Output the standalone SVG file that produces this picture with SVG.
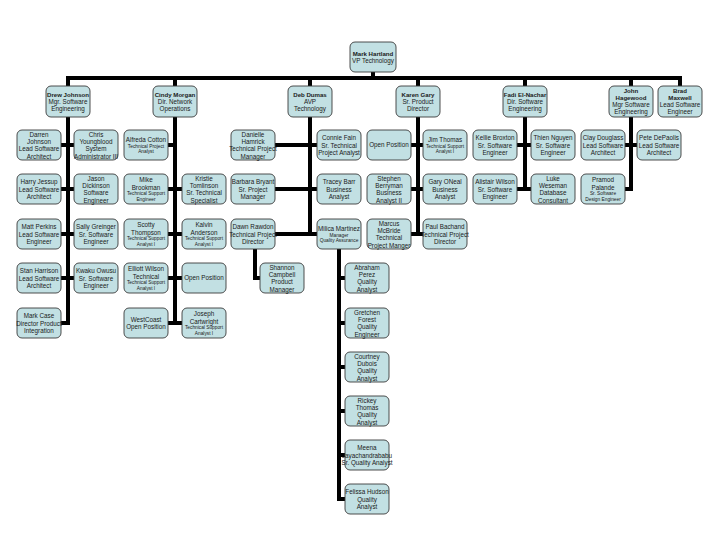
<svg xmlns="http://www.w3.org/2000/svg" width="720" height="540" viewBox="0 0 720 540">
<style>
.box{fill:#c2e0e3;stroke:#3a3a3a;stroke-width:0.9}
text{font-family:"Liberation Sans",Arial,sans-serif;font-size:6.3px;fill:#1a1a1a;text-anchor:middle}
.b{font-weight:bold;font-size:6.1px}
.s{font-size:4.8px}
.c{fill:none;stroke:#000;stroke-width:4;stroke-linecap:square}
</style>
<rect width="720" height="540" fill="#fff"/>
<g id="connectors" class="c">
<path d="M373 72V78M68 78H680M68 78V86M175 78V86M310 78V86M418 78V86M525 78V86M631 78V86M680 78V86"/>
<path d="M68 117V323M61 145H74M61 189H74M61 234H74M61 278H74M61 323H68"/>
<path d="M175 117V323M168 145H175M168 189H182M168 234H182M168 278H182M168 323H182"/>
<path d="M310 117V234M275 145H317M275 189H317M275 234H317"/>
<path d="M255 249V278H260"/>
<path d="M339 249V499M339 278H345M339 323H345M339 367H345M339 411H345M339 455H345M339 499H345"/>
<path d="M418 117V234M411 145H423M411 189H423M411 234H423"/>
<path d="M525 117V189M517 145H531M517 189H531"/>
<path d="M631 117V189M625 145H637M625 189H631"/>
</g>
<g id="mark-hartland"><rect class="box" x="350" y="42" width="46" height="30" rx="5"/><text x="373" y="55.8" class="b">Mark Hartland</text><text x="373" y="63.1">VP Technology</text></g>
<g id="drew-johnson"><rect class="box" x="46" y="86" width="44" height="31" rx="5"/><text x="68" y="96.6" class="b">Drew Johnson</text><text x="68" y="104">Mgr. Software</text><text x="68" y="111.3">Engineering</text></g>
<g id="cindy-morgan"><rect class="box" x="153" y="86" width="44" height="31" rx="5"/><text x="175" y="96.6" class="b">Cindy Morgan</text><text x="175" y="104">Dir. Network</text><text x="175" y="111.3">Operations</text></g>
<g id="deb-dumas"><rect class="box" x="288" y="86" width="44" height="31" rx="5"/><text x="310" y="96.6" class="b">Deb Dumas</text><text x="310" y="104">AVP</text><text x="310" y="111.3">Technology</text></g>
<g id="karen-gary"><rect class="box" x="396" y="86" width="44" height="31" rx="5"/><text x="418" y="96.6" class="b">Karen Gary</text><text x="418" y="104">Sr. Product</text><text x="418" y="111.3">Director</text></g>
<g id="fadi-el-nachar"><rect class="box" x="503" y="86" width="44" height="31" rx="5"/><text x="525" y="96.6" class="b">Fadi El-Nachar</text><text x="525" y="104">Dir. Software</text><text x="525" y="111.3">Engineering</text></g>
<g id="john-hagewood"><rect class="box" x="609" y="86" width="44" height="31" rx="5"/><text x="631" y="92.5" class="b">John</text><text x="631" y="99.8" class="b">Hagewood</text><text x="631" y="107.1">Mgr Software</text><text x="631" y="114.4">Engineering</text></g>
<g id="brad-maxwell"><rect class="box" x="658" y="86" width="44" height="31" rx="5"/><text x="680" y="92.5" class="b">Brad</text><text x="680" y="99.8" class="b">Maxwell</text><text x="680" y="107.1">Lead Software</text><text x="680" y="114.4">Engineer</text></g>
<g id="darren-johnson"><rect class="box" x="17" y="130" width="44" height="30" rx="5"/><text x="39" y="136.6">Darren</text><text x="39" y="143.9">Johnson</text><text x="39" y="151.2">Lead Software</text><text x="39" y="158.5">Architect</text></g>
<g id="chris-youngblood"><rect class="box" x="74" y="130" width="44" height="30" rx="5"/><text x="96" y="136.6">Chris</text><text x="96" y="143.9">Youngblood</text><text x="96" y="151.2">System</text><text x="96" y="158.5">Administrator III</text></g>
<g id="harry-jessup"><rect class="box" x="17" y="174" width="44" height="30" rx="5"/><text x="39" y="184.4">Harry Jessup</text><text x="39" y="191.7">Lead Software</text><text x="39" y="199">Architect</text></g>
<g id="jason-dickinson"><rect class="box" x="74" y="174" width="44" height="30" rx="5"/><text x="96" y="180.6">Jason</text><text x="96" y="187.9">Dickinson</text><text x="96" y="195.2">Software</text><text x="96" y="202.5">Engineer</text></g>
<g id="matt-perkins"><rect class="box" x="17" y="219" width="44" height="30" rx="5"/><text x="39" y="229.4">Matt Perkins</text><text x="39" y="236.7">Lead Software</text><text x="39" y="244">Engineer</text></g>
<g id="sally-greinger"><rect class="box" x="74" y="219" width="44" height="30" rx="5"/><text x="96" y="229.4">Sally Greinger</text><text x="96" y="236.7">Sr. Software</text><text x="96" y="244">Engineer</text></g>
<g id="stan-harrison"><rect class="box" x="17" y="263" width="44" height="30" rx="5"/><text x="39" y="273.4">Stan Harrison</text><text x="39" y="280.7">Lead Software</text><text x="39" y="288">Architect</text></g>
<g id="kwaku-owusu"><rect class="box" x="74" y="263" width="44" height="30" rx="5"/><text x="96" y="273.4">Kwaku Owusu</text><text x="96" y="280.7">Sr. Software</text><text x="96" y="288">Engineer</text></g>
<g id="mark-case"><rect class="box" x="17" y="308" width="44" height="30" rx="5"/><text x="39" y="318.4">Mark Case</text><text x="39" y="325.7">Director Product</text><text x="39" y="333">Integration</text></g>
<g id="alfreda-cotton"><rect class="box" x="124" y="130" width="44" height="30" rx="5"/><text x="146" y="141.8">Alfreda Cotton</text><text x="146" y="147.6" class="s">Technical Project</text><text x="146" y="153.4" class="s">Analyst</text></g>
<g id="mike-brookman"><rect class="box" x="124" y="174" width="44" height="30" rx="5"/><text x="146" y="182.3">Mike</text><text x="146" y="189.6">Brookman</text><text x="146" y="195.4" class="s">Technical Support</text><text x="146" y="201" class="s">Engineer</text></g>
<g id="kristie-tomlinson"><rect class="box" x="182" y="174" width="44" height="30" rx="5"/><text x="204" y="180.6">Kristie</text><text x="204" y="187.9">Tomlinson</text><text x="204" y="195.2">Sr. Technical</text><text x="204" y="202.5">Specialist</text></g>
<g id="scotty-thompson"><rect class="box" x="124" y="219" width="44" height="30" rx="5"/><text x="146" y="227.3">Scotty</text><text x="146" y="234.6">Thompson</text><text x="146" y="240.4" class="s">Technical Support</text><text x="146" y="246" class="s">Analyst I</text></g>
<g id="kalvin-anderson"><rect class="box" x="182" y="219" width="44" height="30" rx="5"/><text x="204" y="227.3">Kalvin</text><text x="204" y="234.6">Anderson</text><text x="204" y="240.4" class="s">Technical Support</text><text x="204" y="246" class="s">Analyst I</text></g>
<g id="elliott-wilson"><rect class="box" x="124" y="263" width="44" height="30" rx="5"/><text x="146" y="271.3">Elliott Wilson</text><text x="146" y="278.6">Technical</text><text x="146" y="284.4" class="s">Technical Support</text><text x="146" y="290" class="s">Analyst I</text></g>
<g id="open-position-cindy"><rect class="box" x="182" y="263" width="44" height="30" rx="5"/><text x="204" y="280.2">Open Position</text></g>
<g id="westcoast-open-position"><rect class="box" x="124" y="308" width="44" height="30" rx="5"/><text x="146" y="321.8">WestCoast</text><text x="146" y="329.1">Open Position</text></g>
<g id="joseph-cartwright"><rect class="box" x="182" y="308" width="44" height="30" rx="5"/><text x="204" y="316.3">Joseph</text><text x="204" y="323.6">Cartwright</text><text x="204" y="329.4" class="s">Technical Support</text><text x="204" y="335" class="s">Analyst I</text></g>
<g id="danielle-hamrick"><rect class="box" x="231" y="130" width="44" height="30" rx="5"/><text x="253" y="136.6">Danielle</text><text x="253" y="143.9">Hamrick</text><text x="253" y="151.2">Technical Project</text><text x="253" y="158.5">Manager</text></g>
<g id="connie-fain"><rect class="box" x="317" y="130" width="44" height="30" rx="5"/><text x="339" y="140.4">Connie Fain</text><text x="339" y="147.7">Sr. Technical</text><text x="339" y="155">Project Analyst</text></g>
<g id="barbara-bryant"><rect class="box" x="231" y="174" width="44" height="30" rx="5"/><text x="253" y="184.4">Barbara Bryant</text><text x="253" y="191.7">Sr. Project</text><text x="253" y="199">Manager</text></g>
<g id="tracey-barr"><rect class="box" x="317" y="174" width="44" height="30" rx="5"/><text x="339" y="184.4">Tracey Barr</text><text x="339" y="191.7">Business</text><text x="339" y="199">Analyst</text></g>
<g id="dawn-rawdon"><rect class="box" x="231" y="219" width="44" height="30" rx="5"/><text x="253" y="229.4">Dawn Rawdon</text><text x="253" y="236.7">Technical Project</text><text x="253" y="244">Director</text></g>
<g id="milica-martinez"><rect class="box" x="317" y="219" width="44" height="30" rx="5"/><text x="339" y="230.8">Milica Martinez</text><text x="339" y="236.6" class="s">Manager</text><text x="339" y="242.4" class="s">Quality Assurance</text></g>
<g id="shannon-campbell"><rect class="box" x="260" y="263" width="44" height="30" rx="5"/><text x="282" y="269.6">Shannon</text><text x="282" y="276.9">Campbell</text><text x="282" y="284.2">Product</text><text x="282" y="291.5">Manager</text></g>
<g id="abraham-perez"><rect class="box" x="345" y="263" width="44" height="30" rx="5"/><text x="367" y="269.6">Abraham</text><text x="367" y="276.9">Perez</text><text x="367" y="284.2">Quality</text><text x="367" y="291.5">Analyst</text></g>
<g id="gretchen-forest"><rect class="box" x="345" y="308" width="44" height="30" rx="5"/><text x="367" y="314.6">Gretchen</text><text x="367" y="321.9">Forest</text><text x="367" y="329.2">Quality</text><text x="367" y="336.5">Engineer</text></g>
<g id="courtney-dubois"><rect class="box" x="345" y="352" width="44" height="30" rx="5"/><text x="367" y="358.6">Courtney</text><text x="367" y="365.9">Dubois</text><text x="367" y="373.2">Quality</text><text x="367" y="380.5">Analyst</text></g>
<g id="rickey-thomas"><rect class="box" x="345" y="396" width="44" height="30" rx="5"/><text x="367" y="402.6">Rickey</text><text x="367" y="409.9">Thomas</text><text x="367" y="417.2">Quality</text><text x="367" y="424.5">Analyst</text></g>
<g id="meena-jayachandrababu"><rect class="box" x="345" y="440" width="44" height="30" rx="5"/><text x="367" y="450.4">Meena</text><text x="367" y="457.7">Jayachandrababu</text><text x="367" y="465">Sr. Quality Analyst</text></g>
<g id="felissa-hudson"><rect class="box" x="345" y="484" width="44" height="30" rx="5"/><text x="367" y="494.4">Felissa Hudson</text><text x="367" y="501.7">Quality</text><text x="367" y="509">Analyst</text></g>
<g id="open-position-karen"><rect class="box" x="367" y="130" width="44" height="30" rx="5"/><text x="389" y="147.2">Open Position</text></g>
<g id="jim-thomas"><rect class="box" x="423" y="130" width="44" height="30" rx="5"/><text x="445" y="141.8">Jim Thomas</text><text x="445" y="147.6" class="s">Technical Support</text><text x="445" y="153.4" class="s">Analyst I</text></g>
<g id="stephen-berryman"><rect class="box" x="367" y="174" width="44" height="30" rx="5"/><text x="389" y="180.6">Stephen</text><text x="389" y="187.9">Berryman</text><text x="389" y="195.2">Business</text><text x="389" y="202.5">Analyst II</text></g>
<g id="gary-oneal"><rect class="box" x="423" y="174" width="44" height="30" rx="5"/><text x="445" y="184.4">Gary ONeal</text><text x="445" y="191.7">Business</text><text x="445" y="199">Analyst</text></g>
<g id="marcus-mcbride"><rect class="box" x="367" y="219" width="44" height="30" rx="5"/><text x="389" y="225.6">Marcus</text><text x="389" y="232.9">McBride</text><text x="389" y="240.2">Technical</text><text x="389" y="247.5">Project Manger</text></g>
<g id="paul-bachand"><rect class="box" x="423" y="219" width="44" height="30" rx="5"/><text x="445" y="229.4">Paul Bachand</text><text x="445" y="236.7">Technical Project</text><text x="445" y="244">Director</text></g>
<g id="kellie-broxton"><rect class="box" x="473" y="130" width="44" height="30" rx="5"/><text x="495" y="140.4">Kellie Broxton</text><text x="495" y="147.7">Sr. Software</text><text x="495" y="155">Engineer</text></g>
<g id="thien-nguyen"><rect class="box" x="531" y="130" width="44" height="30" rx="5"/><text x="553" y="140.4">Thien Nguyen</text><text x="553" y="147.7">Sr. Software</text><text x="553" y="155">Engineer</text></g>
<g id="alistair-wilson"><rect class="box" x="473" y="174" width="44" height="30" rx="5"/><text x="495" y="184.4">Alistair Wilson</text><text x="495" y="191.7">Sr. Software</text><text x="495" y="199">Engineer</text></g>
<g id="luke-weseman"><rect class="box" x="531" y="174" width="44" height="30" rx="5"/><text x="553" y="180.6">Luke</text><text x="553" y="187.9">Weseman</text><text x="553" y="195.2">Database</text><text x="553" y="202.5">Consultant</text></g>
<g id="clay-douglass"><rect class="box" x="581" y="130" width="44" height="30" rx="5"/><text x="603" y="140.4">Clay Douglass</text><text x="603" y="147.7">Lead Software</text><text x="603" y="155">Architect</text></g>
<g id="pete-depaolis"><rect class="box" x="637" y="130" width="44" height="30" rx="5"/><text x="659" y="140.4">Pete DePaolis</text><text x="659" y="147.7">Lead Software</text><text x="659" y="155">Architect</text></g>
<g id="pramod-palande"><rect class="box" x="581" y="174" width="44" height="30" rx="5"/><text x="603" y="182.3">Pramod</text><text x="603" y="189.6">Palande</text><text x="603" y="195.4" class="s">Sr. Software</text><text x="603" y="201" class="s">Design Engineer</text></g>
</svg>
